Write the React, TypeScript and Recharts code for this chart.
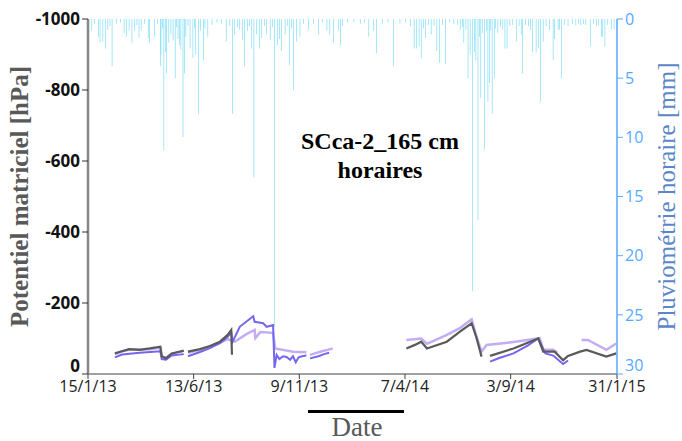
import { ComposedChart, Bar, Line, XAxis, YAxis, Label } from 'recharts';

// x values are days counted from 15/1/13
const START = Date.UTC(2013, 0, 15);
const DAY = 86400000;

const dateTicks = [0, 149, 298, 447, 596, 746];
const potentialTicks = [-1000, -800, -600, -400, -200, 0];
const rainTicks = [0, 5, 10, 15, 20, 25, 30];

// hourly rainfall [mm]
const rain: [number, number][] = [
  [5, 1.0], [9, 0.4], [15, 1.5], [17, 2.0], [21, 1.9], [25, 2.5], [28, 0.9], [31, 0.6], [34, 4.0],
  [40, 0.4], [46, 0.3], [51, 1.2], [54, 1.5], [58, 1.0], [62, 2.0], [66, 1.0], [69, 0.5], [72, 1.6],
  [75, 1.0], [80, 0.4], [85, 1.6], [87, 2.0], [94, 1.5], [98, 0.4], [102, 4.0], [103, 3.0], [105, 0.8],
  [107, 11.1], [109, 2.8], [111, 4.6], [114, 2.0], [117, 1.3], [120, 1.8], [123, 5.0], [125, 0.7],
  [127, 1.7], [129, 2.2], [131, 2.6], [134, 10.0], [136, 4.6], [138, 1.5], [141, 0.6], [144, 2.5],
  [148, 3.3], [150, 0.8], [152, 3.0], [156, 8.0], [159, 1.0], [163, 3.5], [165, 0.8], [169, 1.5],
  [175, 0.5], [182, 0.3], [188, 0.4], [195, 1.9], [200, 0.6], [204, 8.0], [207, 1.3], [211, 0.7],
  [214, 0.9], [218, 1.8], [221, 4.0], [225, 1.0], [228, 0.6], [231, 2.5], [234, 13.4], [238, 1.3],
  [242, 2.5], [245, 1.6], [249, 0.6], [252, 1.3], [257, 1.8], [260, 0.7], [263, 26.0], [267, 2.2],
  [270, 1.7], [273, 2.7], [278, 1.3], [281, 0.6], [284, 3.9], [287, 0.8], [290, 6.0], [294, 1.9],
  [299, 1.5], [304, 0.4], [311, 0.9], [318, 0.4], [325, 1.3], [331, 0.3], [337, 1.0], [341, 1.3],
  [346, 2.0], [353, 1.0], [356, 2.2], [359, 0.6], [366, 0.3], [375, 0.3], [384, 0.4], [390, 0.3],
  [396, 1.5], [403, 1.0], [407, 2.9], [415, 0.4], [423, 0.3], [431, 4.0], [440, 0.4], [448, 0.3],
  [455, 0.6], [460, 2.5], [463, 2.5], [467, 2.3], [470, 3.3], [473, 0.8], [476, 1.6], [480, 0.5],
  [484, 1.3], [488, 0.6], [492, 2.7], [496, 3.7], [500, 0.5], [504, 3.8], [510, 0.3], [516, 0.4],
  [521, 0.5], [525, 0.9], [528, 0.7], [530, 2.0], [533, 0.9], [536, 5.0], [539, 3.0], [542, 23.0],
  [545, 2.8], [547, 3.5], [550, 17.0], [552, 1.5], [554, 6.7], [556, 1.2], [559, 11.0], [562, 1.0],
  [564, 7.0], [566, 5.4], [568, 1.0], [570, 8.0], [573, 5.0], [575, 0.8], [578, 1.2], [582, 0.7],
  [585, 0.9], [588, 2.5], [591, 2.5], [595, 0.6], [599, 0.5], [604, 1.9], [608, 0.6], [611, 1.3],
  [613, 4.6], [617, 0.5], [621, 0.6], [624, 0.9], [627, 2.8], [632, 2.8], [635, 2.5], [638, 7.0],
  [642, 1.9], [646, 0.6], [651, 0.9], [656, 3.5], [658, 1.7], [663, 0.9], [665, 0.9], [668, 5.0],
  [672, 0.5], [677, 0.6], [683, 0.4], [688, 0.5], [692, 0.4], [695, 0.5], [699, 0.4], [702, 0.5],
  [709, 2.3], [713, 0.4], [717, 0.6], [720, 0.5], [724, 1.5], [726, 1.5], [729, 2.3], [733, 0.5],
  [738, 0.9], [742, 0.9],
];

// matric potential [hPa], null = no measurement
const greySensor: [number, number | null][] = [
  [38, -58], [48, -64], [58, -70], [73, -68], [87, -72], [102, -77], [104, -50], [110, -44],
  [118, -58], [127, -62], [135, -65], [138, null],
  [141, -63], [158, -70], [172, -79], [186, -91], [197, -110], [202, -124], [203, -54], [205, null],
  [449, -72], [461, -82], [470, -91], [478, -72], [506, -91], [525, -120], [541, -143], [548, -101],
  [555, -49], [560, null], [567, -51], [600, -72], [635, -100], [642, -63], [658, -63], [670, -39],
  [677, -51], [694, -63], [703, -68], [731, -49], [745, -58],
];

const blueSensor: [number, number | null][] = [
  [38, -47], [48, -55], [73, -60], [102, -64], [104, -42], [110, -40], [118, -52], [135, -56], [138, null],
  [141, -50], [158, -62], [172, -73], [186, -87], [197, -105], [202, -118], [204, -91], [214, -133],
  [233, -163], [235, -147], [247, -143], [252, -133], [261, -138], [263, -17], [266, -54], [270, -42],
  [275, -50], [280, -48], [285, -40], [289, -50], [293, -33], [297, -47], [302, -50], [308, -52], [310, null],
  [313, -44], [325, -50], [333, -56], [340, -60], [345, null],
  [567, -35], [580, -45], [600, -58], [620, -80], [635, -100], [645, -58], [656, -52], [670, -28], [677, -38],
];

const lavenderSensor: [number, number | null][] = [
  [38, -56], [48, -64], [58, -68], [87, -70], [102, -74], [104, -50], [110, -46], [118, -56], [135, -66], [138, null],
  [141, -60], [158, -68], [172, -78], [186, -88], [197, -98], [207, -91], [224, -113], [235, -124],
  [236, -101], [243, -118], [261, -116], [264, -72], [289, -63], [308, -61], [310, null],
  [313, -54], [320, -58], [330, -64], [338, -68], [345, -72], [350, null],
  [449, -96], [470, -100], [478, -85], [506, -110], [525, -130], [541, -154], [548, -105], [555, -63],
  [562, -82], [600, -90], [637, -101], [642, -68], [656, -68], [662, -60], [670, null],
  [696, -96], [705, -96], [731, -68], [745, -86],
];

const rainData = rain.map(([d, mm]) => ({ day: d, rain: mm }));
const toRows = (pts: [number, number | null][]) => pts.map(([d, v]) => ({ day: d, p: v }));

const fmtDate = (d: number) => {
  const t = new Date(START + d * DAY);
  return `${t.getUTCDate()}/${t.getUTCMonth() + 1}/${String(t.getUTCFullYear()).slice(2)}`;
};

// bottom labels of both value axes sit a little higher, like in the original
const PotentialTick = (props: any) => {
  const { x, y, payload } = props;
  const lift = payload.value === 0 ? -8 : 0;
  return (
    <text x={x} y={y + lift} dy="0.355em" textAnchor="end" fill="#111" fontSize={17} fontWeight="bold" fontFamily="Open Sans">
      {payload.value}
    </text>
  );
};

const RainTick = (props: any) => {
  const { x, y, payload } = props;
  const lift = payload.value === 30 ? -9 : 0;
  return (
    <text x={x} y={y + lift} dy="0.355em" textAnchor="start" fill="#55AAFF" fontSize={16} fontFamily="Open Sans">
      {payload.value}
    </text>
  );
};

export default function App() {
  return (
    <div style={{ position: 'absolute', left: 0, top: 0, width: 682, height: 441, background: '#fff' }}>
      <ComposedChart
        width={682}
        height={441}
        data={rainData}
        margin={{ top: 19, right: 15, left: 28, bottom: 37 }}
      >
        <XAxis
          xAxisId="top"
          orientation="top"
          type="number"
          dataKey="day"
          domain={[0, 746]}
          height={0}
          tick={false}
          tickLine={false}
          axisLine={{ stroke: '#4472C4', strokeWidth: 1.5 }}
        />
        <XAxis
          dataKey="day"
          type="number"
          domain={[0, 746]}
          ticks={dateTicks}
          tickFormatter={fmtDate}
          height={30}
          tickSize={5}
          axisLine={{ stroke: '#404040' }}
          tickLine={{ stroke: '#404040' }}
          tick={{ fill: '#222', fontSize: 16, fontFamily: 'Open Sans' }}
          allowDataOverflow
        />
        <YAxis
          yAxisId="p"
          domain={[-1000, 0]}
          reversed
          ticks={potentialTicks}
          width={60}
          tickSize={6}
          axisLine={{ stroke: '#868686', strokeWidth: 2.5 }}
          tickLine={{ stroke: '#333' }}
          tick={PotentialTick}
        >
          <Label
            value="Potentiel matriciel [hPa]"
            angle={-90}
            position="insideLeft"
            offset={-9}
            style={{ textAnchor: 'middle', fill: '#595959', fontSize: 25, fontWeight: 'bold', fontFamily: 'Liberation Serif' }}
          />
        </YAxis>
        <YAxis
          yAxisId="r"
          orientation="right"
          domain={[0, 30]}
          reversed
          ticks={rainTicks}
          width={50}
          tickSize={6}
          axisLine={{ stroke: '#55AAFF', strokeWidth: 1.5 }}
          tickLine={{ stroke: '#55AAFF' }}
          tick={RainTick}
        >
          <Label
            value="Pluviométrie horaire [mm]"
            angle={-90}
            position="insideRight"
            offset={1}
            style={{ textAnchor: 'middle', fill: '#5B87C8', fontSize: 25, fontFamily: 'Liberation Serif' }}
          />
        </YAxis>
        <Bar yAxisId="r" dataKey="rain" fill="#74DAF5" barSize={1} isAnimationActive={false} />
        <Line
          yAxisId="p"
          data={toRows(lavenderSensor)}
          dataKey="p"
          stroke="#C2ADF5"
          strokeWidth={2.5}
          dot={false}
          isAnimationActive={false}
        />
        <Line
          yAxisId="p"
          data={toRows(blueSensor)}
          dataKey="p"
          stroke="#7467EE"
          strokeWidth={2}
          dot={false}
          isAnimationActive={false}
        />
        <Line
          yAxisId="p"
          data={toRows(greySensor)}
          dataKey="p"
          stroke="#5A5A5A"
          strokeWidth={2.2}
          dot={false}
          isAnimationActive={false}
        />
      </ComposedChart>
      <div
        style={{
          position: 'absolute', left: 255, top: 127, width: 250, textAlign: 'center',
          fontFamily: 'Liberation Serif', fontWeight: 'bold', fontSize: 24, lineHeight: '29px', color: '#000',
        }}
      >
        SCca-2_165 cm
        <br />
        horaires
      </div>
      <div style={{ position: 'absolute', left: 308, top: 410, width: 96, borderTop: '3px solid #000' }} />
      <div
        style={{
          position: 'absolute', left: 297, top: 412, width: 120, textAlign: 'center',
          fontFamily: 'Liberation Serif', fontSize: 27, lineHeight: '30px', color: '#595959',
        }}
      >
        Date
      </div>
    </div>
  );
}
